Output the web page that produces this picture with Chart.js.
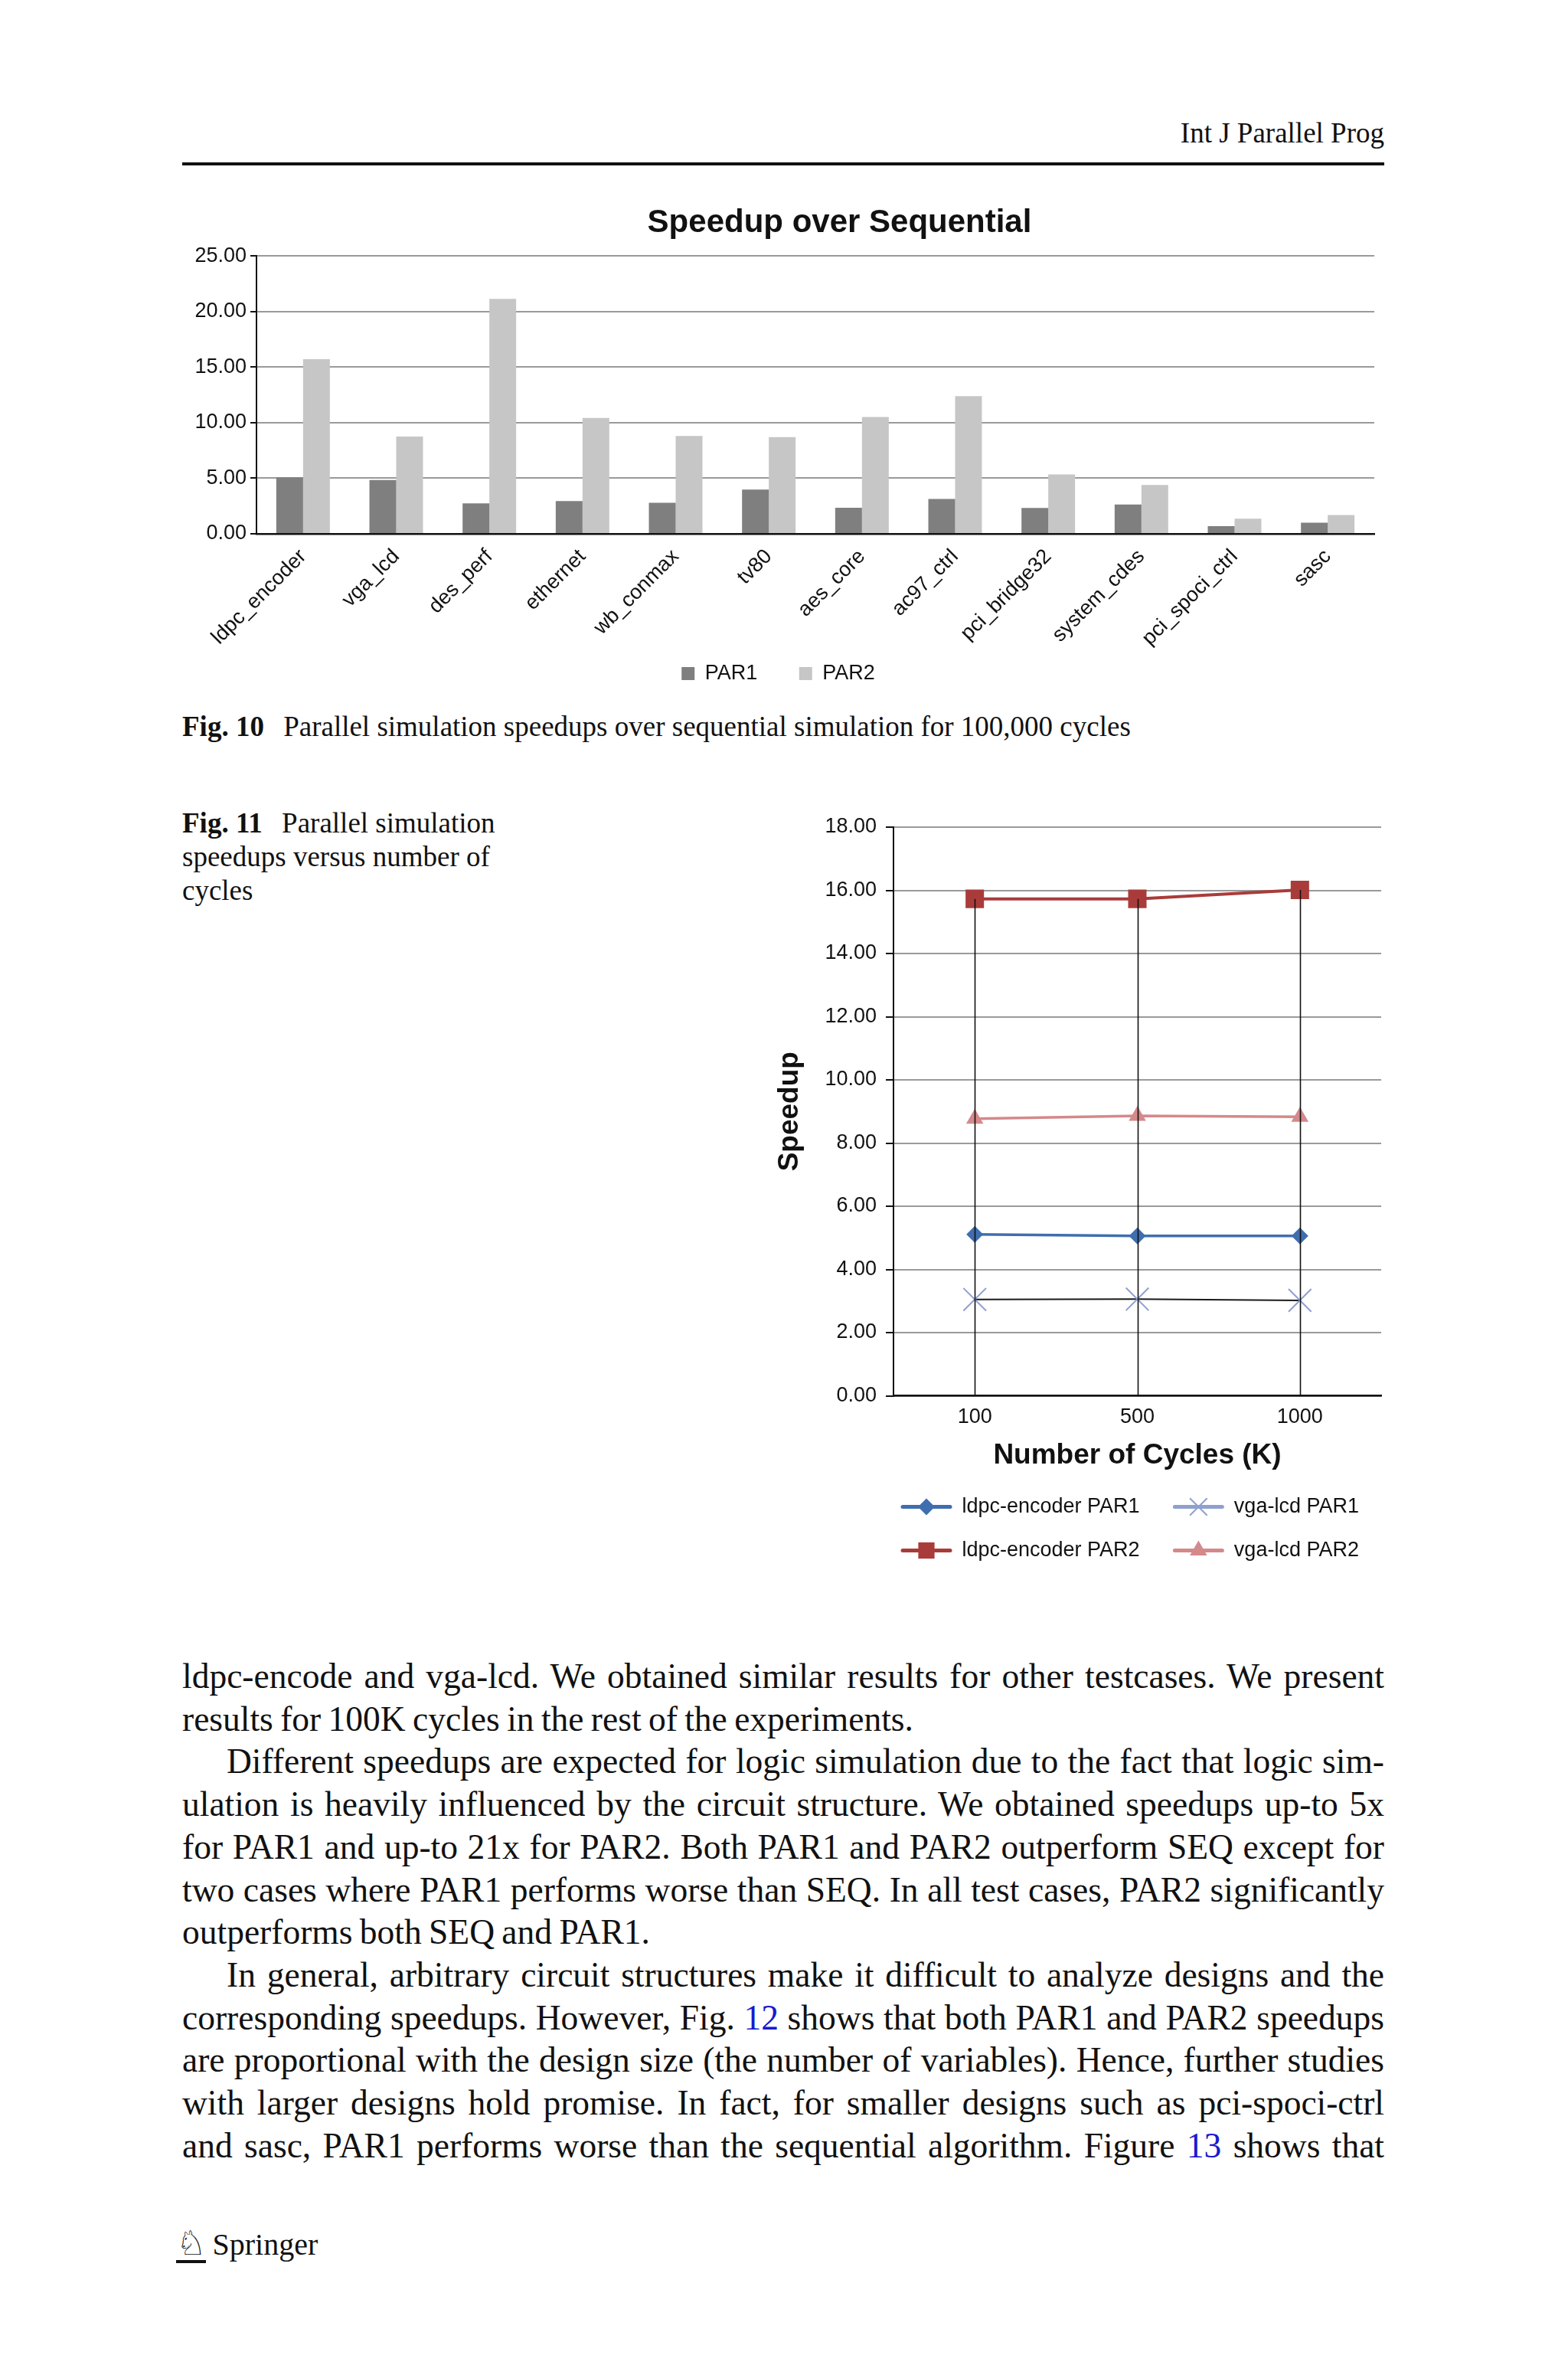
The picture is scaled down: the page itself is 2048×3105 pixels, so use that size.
<!DOCTYPE html>
<html>
<head>
<meta charset="utf-8">
<script src="https://cdn.jsdelivr.net/npm/chart.js@4.4.0/dist/chart.umd.min.js"></script>
<style>
html, body { margin: 0; padding: 0; background: #fff; }
body { width: 2048px; height: 3105px; position: relative; overflow: hidden;
       font-family: "Liberation Serif", "Times New Roman", serif; color: #111; }
.abs { position: absolute; }
#header { left: 1200px; width: 608px; top: 150px; font-size: 37px; line-height: 48px; text-align: right; }
#rule { left: 238px; top: 212px; width: 1570px; height: 4px; background: #111; }
#barWrap { left: 238px; top: 250px; width: 1575px; height: 653px; }
#lineWrap { left: 1000px; top: 1040px; width: 830px; height: 1018px; }
.caption { font-size: 37px; line-height: 44px; }
.caption b { margin-right: 16px; }
#cap10 { left: 238px; top: 927px; width: 1570px; }
#cap11 { left: 238px; top: 1053px; width: 700px; }
#body { left: 238px; top: 2161px; width: 1570px; font-size: 45.5px; line-height: 55.7px; word-spacing: -2px; }
#body div { text-align: justify; text-align-last: justify; white-space: nowrap; }
#body div.last { text-align-last: left; }
#body div.ind { padding-left: 58px; }
#body a { color: #1a1ad0; text-decoration: none; }
#footer { left: 230px; top: 2903px; font-size: 40px; line-height: 56px; }
#footer .logo { font-family: "DejaVu Sans", sans-serif; font-size: 44px; display: inline-block;
                border-bottom: 4px solid #111; line-height: 44px; margin-right: 8px; }
</style>
</head>
<body>
<div id="header" class="abs">Int J Parallel Prog</div>
<div id="rule" class="abs"></div>

<div id="barWrap" class="abs"><canvas id="barChart"></canvas></div>
<div id="cap10" class="abs caption"><b>Fig. 10</b> Parallel simulation speedups over sequential simulation for 100,000 cycles</div>

<div id="cap11" class="abs caption"><b>Fig. 11</b> Parallel simulation<br>speedups versus number of<br>cycles</div>
<div id="lineWrap" class="abs"><canvas id="lineChart"></canvas></div>

<div id="body" class="abs">
<div>ldpc-encode and vga-lcd. We obtained similar results for other testcases. We present</div>
<div class="last">results for 100K cycles in the rest of the experiments.</div>
<div class="ind">Different speedups are expected for logic simulation due to the fact that logic sim-</div>
<div>ulation is heavily influenced by the circuit structure. We obtained speedups up-to 5x</div>
<div>for PAR1 and up-to 21x for PAR2. Both PAR1 and PAR2 outperform SEQ except for</div>
<div>two cases where PAR1 performs worse than SEQ. In all test cases, PAR2 significantly</div>
<div class="last">outperforms both SEQ and PAR1.</div>
<div class="ind">In general, arbitrary circuit structures make it difficult to analyze designs and the</div>
<div>corresponding speedups. However, Fig. <a>12</a> shows that both PAR1 and PAR2 speedups</div>
<div>are proportional with the design size (the number of variables). Hence, further studies</div>
<div>with larger designs hold promise. In fact, for smaller designs such as pci-spoci-ctrl</div>
<div>and sasc, PAR1 performs worse than the sequential algorithm. Figure <a>13</a> shows that</div>
</div>

<div id="footer" class="abs"><span class="logo">&#9816;</span>Springer</div>

<script>
// Fig. 10 data
const benchmarks = ['ldpc_encoder', 'vga_lcd', 'des_perf', 'ethernet', 'wb_conmax', 'tv80',
    'aes_core', 'ac97_ctrl', 'pci_bridge32', 'system_cdes', 'pci_spoci_ctrl', 'sasc'];
const par1Speedup = [5.09, 4.85, 2.74, 2.95, 2.80, 3.98, 2.35, 3.14, 2.32, 2.64, 0.69, 1.00];
const par2Speedup = [15.72, 8.76, 21.15, 10.42, 8.81, 8.70, 10.52, 12.39, 5.35, 4.40, 1.37, 1.69];
const barAxisMax = 25;
const barAxisStep = 5;

// Fig. 11 data
const cycleLabels = ['100', '500', '1000'];
const ldpcPar1 = [5.11, 5.06, 5.06];
const ldpcPar2 = [15.73, 15.73, 16.01];
const vgaPar1 = [3.05, 3.06, 3.02];
const vgaPar2 = [8.77, 8.86, 8.83];
const lineAxisMax = 18;
const lineAxisStep = 2;

Chart.defaults.font.family = '"Liberation Sans", Arial, sans-serif';
Chart.defaults.color = '#111';
Chart.defaults.animation = false;

function fixed2(v) {
    return Number(v).toFixed(2);
}

new Chart(document.getElementById('barChart'), {
    type: 'bar',
    data: {
        labels: benchmarks,
        datasets: [
            { label: 'PAR1', data: par1Speedup, backgroundColor: '#7f7f7f', borderWidth: 0 },
            { label: 'PAR2', data: par2Speedup, backgroundColor: '#c6c6c6', borderWidth: 0 }
        ]
    },
    options: {
        responsive: true,
        maintainAspectRatio: false,
        devicePixelRatio: 1,
        layout: { padding: { top: 0, right: 18, bottom: 0, left: 0 } },
        categoryPercentage: 0.575,
        barPercentage: 1.0,
        plugins: {
            title: {
                display: true,
                fullSize: false,
                // leading spaces nudge the title right, as in the original
                text: '\u2003\u2002Speedup over Sequential',
                font: { size: 42, weight: 'bold' },
                color: '#111',
                padding: { top: 16, bottom: 18 }
            },
            legend: {
                position: 'bottom',
                labels: {
                    boxWidth: 17, boxHeight: 17, padding: 14, font: { size: 27 }, color: '#111',
                    generateLabels(chart) {
                        return chart.data.datasets.map((ds, i) => ({
                            text: i === 0 ? ds.label + '\u2003\u2002' : ds.label,
                            fillStyle: ds.backgroundColor, strokeStyle: ds.backgroundColor,
                            lineWidth: 0, hidden: false, datasetIndex: i, fontColor: '#111'
                        }));
                    }
                }
            },
            tooltip: { enabled: false }
        },
        scales: {
            x: {
                grid: { display: false, drawTicks: false },
                border: { color: '#111', width: 2.5 },
                ticks: { minRotation: 45, maxRotation: 45, padding: 14, font: { size: 27 }, color: '#111' },
                afterFit(scale) { scale.height = 155; }
            },
            y: {
                min: 0,
                max: barAxisMax,
                grid: { color: '#9a9a9a', lineWidth: 2, tickLength: 8, tickColor: '#111' },
                border: { color: '#111', width: 2 },
                ticks: { stepSize: barAxisStep, padding: 5, font: { size: 27 }, color: '#111', callback: fixed2 },
                afterFit(scale) { scale.width = 97; }
            }
        }
    }
});

// vertical drop lines from the top series down to the axis
const dropLines = {
    id: 'dropLines',
    afterDatasetsDraw(chart) {
        const ctx = chart.ctx;
        const x = chart.scales.x;
        const y = chart.scales.y;
        ctx.save();
        ctx.strokeStyle = '#111';
        ctx.lineWidth = 1.6;
        chart.data.labels.forEach((lab, i) => {
            const top = Math.max(...chart.data.datasets.map(ds => ds.data[i]));
            const px = Math.round(x.getPixelForValue(i)) + 0.5;
            ctx.beginPath();
            ctx.moveTo(px, y.getPixelForValue(top));
            ctx.lineTo(px, y.getPixelForValue(0));
            ctx.stroke();
        });
        ctx.restore();
    }
};

function drawMarker(ctx, style, r, cx, cy) {
    ctx.beginPath();
    if (style === 'rectRot') {
        ctx.moveTo(cx - r, cy); ctx.lineTo(cx, cy - r); ctx.lineTo(cx + r, cy); ctx.lineTo(cx, cy + r);
        ctx.closePath(); ctx.fill();
    } else if (style === 'rect') {
        const s = r * Math.SQRT1_2;
        ctx.rect(cx - s, cy - s, 2 * s, 2 * s); ctx.fill();
    } else if (style === 'triangle') {
        const h = r * 0.866;
        ctx.moveTo(cx, cy - r); ctx.lineTo(cx + h, cy + r / 2); ctx.lineTo(cx - h, cy + r / 2);
        ctx.closePath(); ctx.fill();
    } else if (style === 'crossRot') {
        const d = r * Math.SQRT1_2;
        ctx.moveTo(cx - d, cy - d); ctx.lineTo(cx + d, cy + d);
        ctx.moveTo(cx + d, cy - d); ctx.lineTo(cx - d, cy + d);
        ctx.stroke();
    }
}

// legend boxes are left empty; draw a short line plus the series marker in them
const legendMarkers = {
    id: 'legendMarkers',
    afterDraw(chart) {
        const legend = chart.legend;
        if (!legend || !legend.legendHitBoxes) return;
        const ctx = chart.ctx;
        const bw = legend.options.labels.boxWidth;
        legend.legendHitBoxes.forEach((box, i) => {
            const ds = chart.data.datasets[legend.legendItems[i].datasetIndex];
            const cy = box.top + box.height / 2;
            ctx.save();
            ctx.strokeStyle = ds.legendColor;
            ctx.lineCap = 'round';
            ctx.lineWidth = 5;
            ctx.beginPath();
            ctx.moveTo(box.left + 2, cy);
            ctx.lineTo(box.left + bw - 2, cy);
            ctx.stroke();
            ctx.lineCap = 'butt';
            ctx.fillStyle = ds.legendColor;
            ctx.lineWidth = 2;
            drawMarker(ctx, ds.pointStyle, ds.legendRadius, box.left + bw / 2, cy);
            ctx.restore();
        });
    }
};

new Chart(document.getElementById('lineChart'), {
    type: 'line',
    data: {
        labels: cycleLabels,
        datasets: [
            { label: 'ldpc-encoder PAR1', data: ldpcPar1, borderColor: '#3f6eaf', borderWidth: 3.5,
              pointStyle: 'rectRot', pointRadius: 11, pointBackgroundColor: '#3f6eaf', pointBorderWidth: 0,
              legendColor: '#3f6eaf', legendRadius: 11 },
            { label: 'vga-lcd PAR1', data: vgaPar1, borderColor: '#1a1a1a', borderWidth: 2,
              pointStyle: 'crossRot', pointRadius: 21, pointBorderColor: '#8f9fd3', pointBorderWidth: 2,
              legendColor: '#8fa0d0', legendRadius: 16 },
            { label: 'ldpc-encoder PAR2', data: ldpcPar2, borderColor: '#a93c3a', borderWidth: 4,
              pointStyle: 'rect', pointRadius: 17, pointBackgroundColor: '#a93c3a', pointBorderWidth: 0,
              legendColor: '#a93c3a', legendRadius: 15 },
            { label: 'vga-lcd PAR2', data: vgaPar2, borderColor: '#d4898b', borderWidth: 3.5,
              pointStyle: 'triangle', pointRadius: 13, pointBackgroundColor: '#d4898b', pointBorderWidth: 0,
              legendColor: '#d4898b', legendRadius: 13 }
        ]
    },
    options: {
        responsive: true,
        maintainAspectRatio: false,
        devicePixelRatio: 1,
        layout: { padding: { top: 40, right: 26, bottom: 0, left: 0 } },
        plugins: {
            legend: {
                position: 'bottom',
                align: 'start',
                fullSize: false,
                labels: {
                    boxWidth: 66, boxHeight: 47, padding: 10, font: { size: 27 }, color: '#111',
                    generateLabels(chart) {
                        // left column labels get a trailing space so the second column sits further right
                        return chart.data.datasets.map((ds, i) => ({
                            text: i % 2 === 0 ? ds.label + '\u2003\u2005' : ds.label,
                            fillStyle: 'rgba(0,0,0,0)', strokeStyle: 'rgba(0,0,0,0)',
                            lineWidth: 0, hidden: false, datasetIndex: i, fontColor: '#111'
                        }));
                    }
                }
            },
            tooltip: { enabled: false }
        },
        scales: {
            x: {
                offset: true,
                grid: { display: false, drawTicks: false },
                border: { color: '#111', width: 2.5 },
                ticks: { padding: 12, font: { size: 27 }, color: '#111' },
                title: { display: true, text: 'Number of Cycles (K)', font: { size: 37, weight: 'bold' },
                         color: '#111', padding: { top: 0, bottom: 11 } },
                afterFit(scale) { scale.height = 111.5; }
            },
            y: {
                min: 0,
                max: lineAxisMax,
                grid: { color: '#9a9a9a', lineWidth: 2, tickLength: 10, tickColor: '#111' },
                border: { color: '#111', width: 2 },
                ticks: { stepSize: lineAxisStep, padding: 12, font: { size: 27 }, color: '#111', callback: fixed2 },
                title: { display: true, text: 'Speedup', font: { size: 37, weight: 'bold' },
                         color: '#111', padding: { top: 10, bottom: 0 } },
                afterFit(scale) { scale.width = 167; }
            }
        }
    },
    plugins: [dropLines, legendMarkers]
});
</script>
</body>
</html>
